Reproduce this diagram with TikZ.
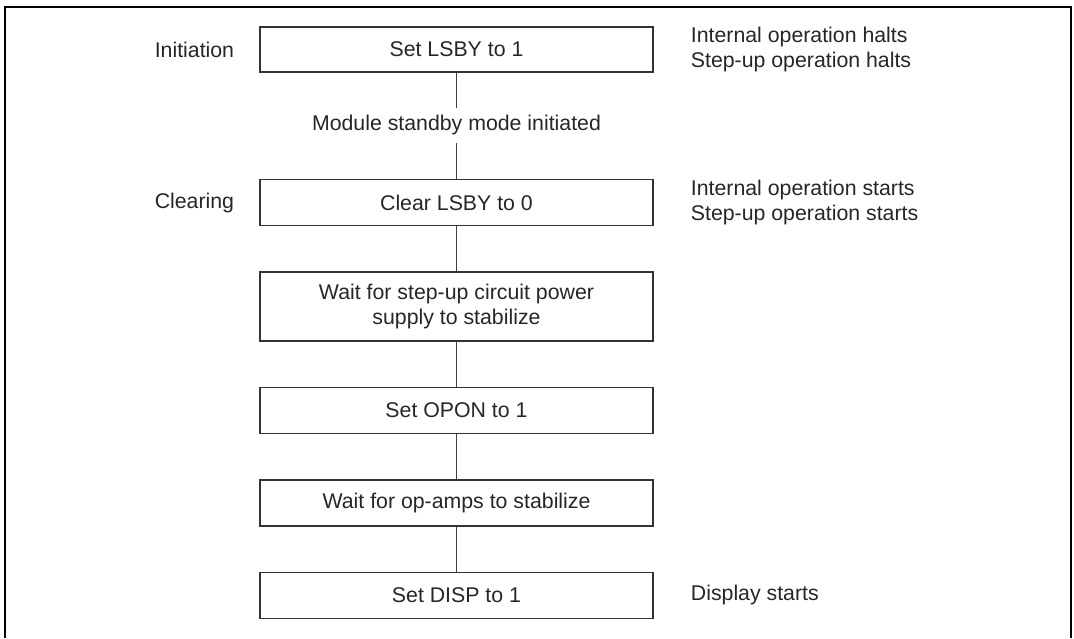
\documentclass[tikz,border=0pt]{standalone}
\usepackage{fontspec}
\setmainfont{Liberation Sans}
\usetikzlibrary{positioning}

\begin{document}
\begin{tikzpicture}[
    x=1pt, y=1pt,
    font=\fontsize{21.3}{25.5}\selectfont,
    text=black!85,
    stepbox/.style={draw=black!80, line width=1.4pt, minimum width=393pt,
                    minimum height=46pt, align=center, inner sep=4pt},
    midnote/.style={inner xsep=0pt, inner ysep=7.5pt},
    sidelbl/.style={inner sep=0pt, align=left},
    link/.style={draw=black!75, line width=1pt}
  ]
    \useasboundingbox (0,0) rectangle (1074,-638);
    % open frame
    \draw[line width=2pt] (5,-638) -- (5,-6.5) -- (1071,-6.5) -- (1071,-638);

    % main flow
    \node[stepbox, minimum height=45pt] (lsbyset) at (456.5,-49.5) {Set LSBY to 1};
    \node[midnote] (standby) [below=35pt of lsbyset] {Module standby mode initiated};
    \node[stepbox] (lsbyclr) [below=36pt of standby] {Clear LSBY to 0};
    \node[stepbox, minimum height=69pt] (stepwait) [below=45pt of lsbyclr]
      {Wait for step-up circuit power\\supply to stabilize};
    \node[stepbox] (oponset) [below=45pt of stepwait] {Set OPON to 1};
    \node[stepbox] (ampwait) [below=45pt of oponset] {Wait for op-amps to stabilize};
    \node[stepbox] (dispset) [below=45pt of ampwait] {Set DISP to 1};

    \foreach \a/\b in {lsbyset/standby, standby/lsbyclr, lsbyclr/stepwait,
                       stepwait/oponset, oponset/ampwait, ampwait/dispset}
      \draw[link] (\a) -- (\b);

    % phase labels
    \node[sidelbl, anchor=east] (initlbl) [left=25pt of lsbyset] {Initiation};
    \node[sidelbl, anchor=east] (clrlbl) [left=25pt of lsbyclr] {Clearing};

    % effects
    \node[sidelbl] (haltlbl) [right=37pt of lsbyset]
      {Internal operation halts\\Step-up operation halts};
    \node[sidelbl] (startlbl) [right=37pt of lsbyclr]
      {Internal operation starts\\Step-up operation starts};
    \node[sidelbl] (displbl) [right=37pt of dispset] {Display starts};
  \end{tikzpicture}
\end{document}
